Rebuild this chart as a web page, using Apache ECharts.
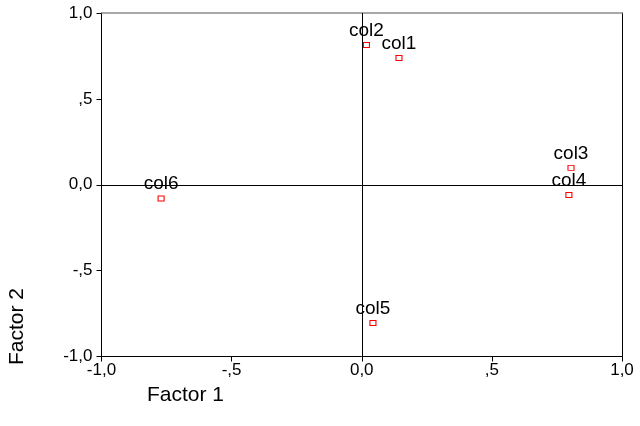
<!DOCTYPE html>
<html>
<head>
<meta charset="utf-8">
<script src="https://cdn.jsdelivr.net/npm/echarts@6/dist/echarts.min.js"></script>
<style>
html,body{margin:0;padding:0;background:#fff;}
#chart{width:640px;height:426px;}
</style>
</head>
<body>
<div id="chart"></div>
<script>
var names = ["col1","col2","col3","col4","col5","col6"];
var factor1 = [0.143, 0.018, 0.804, 0.796, 0.043, -0.771];
var factor2 = [0.738, 0.814, 0.098, -0.060, -0.805, -0.080];
var tickValues = [-1, -0.5, 0, 0.5, 1];
var tickLabels = ["-1,0", "-,5", "0,0", ",5", "1,0"];
var xTitle = "Factor 1";
var yTitle = "Factor 2";

function fmt(v){
  for (var i = 0; i < tickValues.length; i++) {
    if (Math.abs(tickValues[i] - v) < 1e-6) return tickLabels[i];
  }
  return "";
}

var font = "'Liberation Sans', Arial, sans-serif";
var data = names.map(function(n, i){ return {name: n, value: [factor1[i], factor2[i]]}; });

var chart = echarts.init(document.getElementById('chart'), null, {renderer:'canvas'});
chart.setOption({
  animation: false,
  backgroundColor: '#fff',
  grid: {left: 101.5, right: 18, top: 13, bottom: 69.5, containLabel: false},
  xAxis: [{
    type: 'value', min: -1, max: 1, interval: 0.5, position: 'bottom',
    axisLine: {show: true, onZero: false, lineStyle: {color: '#000', width: 1}},
    axisTick: {show: true, length: 5, inside: false, lineStyle: {color: '#000'}},
    axisLabel: {formatter: fmt, color: '#000', fontSize: 17, fontFamily: font, margin: 5},
    splitLine: {show: false}
  }, {
    type: 'value', min: -1, max: 1, position: 'top',
    axisLine: {show: true, onZero: false, lineStyle: {color: '#8c8c8c', width: 1.5}},
    axisTick: {show: false}, axisLabel: {show: false}, splitLine: {show: false}
  }],
  yAxis: [{
    type: 'value', min: -1, max: 1, interval: 0.5, position: 'left',
    axisLine: {show: true, onZero: false, lineStyle: {color: '#000', width: 1}},
    axisTick: {show: true, length: 5, inside: false, lineStyle: {color: '#000'}},
    axisLabel: {formatter: fmt, color: '#000', fontSize: 17, fontFamily: font, margin: 9},
    splitLine: {show: false}
  }, {
    type: 'value', min: -1, max: 1, position: 'right',
    axisLine: {show: true, onZero: false, lineStyle: {color: '#000', width: 1}},
    axisTick: {show: false}, axisLabel: {show: false}, splitLine: {show: false}
  }],
  graphic: [{
    type: 'text', left: 147, top: 385,
    style: {text: xTitle, fill: '#000', font: '21px ' + font}
  }, {
    type: 'text', left: 7, top: 288, rotation: Math.PI / 2,
    style: {text: yTitle, fill: '#000', font: '21px ' + font}
  }],
  series: [{
    type: 'scatter',
    xAxisIndex: 0, yAxisIndex: 0,
    data: data,
    symbol: 'rect',
    symbolSize: [6, 5],
    itemStyle: {color: '#fff', borderColor: '#ff0000', borderWidth: 1, opacity: 1},
    label: {show: true, position: 'top', distance: 2, formatter: '{b}', color: '#000', fontSize: 19, fontFamily: font},
    emphasis: {disabled: true},
    markLine: {
      silent: true, symbol: 'none', animation: false,
      label: {show: false},
      lineStyle: {color: '#000', width: 1, type: 'solid'},
      data: [{xAxis: 0}, {yAxis: 0}]
    }
  }]
});
</script>
</body>
</html>
